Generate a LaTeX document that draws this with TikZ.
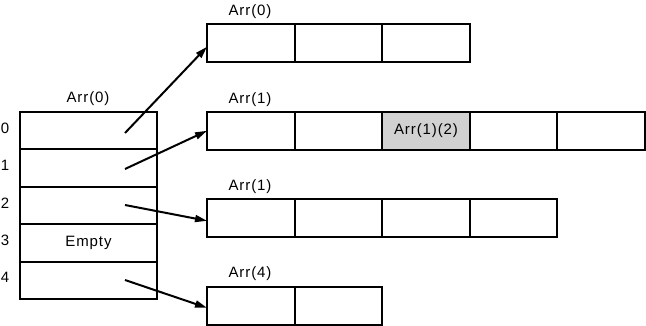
\documentclass[tikz,border=0pt]{standalone}
\usepackage{fontspec}
\setmainfont{Liberation Sans}[LetterSpace=6]
\usetikzlibrary{arrows.meta}
\begin{document}
\begin{tikzpicture}[x=1pt,y=-1pt,
  cell/.style={draw, line width=2pt, minimum width=87.6pt, minimum height=37.6pt,
    anchor=north west, inner sep=0pt, outer sep=0pt},
  slot/.style={draw, line width=2pt, minimum width=137pt, minimum height=37.4pt,
    anchor=north west, inner sep=0pt, outer sep=0pt},
  shaded/.style={fill=black!18},
  lbl/.style={font=\fontsize{15}{17}\selectfont, inner sep=0pt},
  ptr/.style={line width=2pt, -{Triangle[length=12pt,width=7pt]}}]
  \useasboundingbox (0,0) rectangle (646,326);

  % outer array: five slots
  \foreach \i/\y in {0/112,1/149.4,2/186.8,3/224.2,4/261.6}{
    \node[slot] (s\i) at (20,\y) {};
    \node[lbl] (n\i) at (5,\y+16) {\i};
  }
  \node[lbl] at (s3) {Empty};
  \node[lbl] (outer) at (88,99) {Arr(0)};

  % inner arrays
  \foreach \j in {0,1,2}
    \node[cell] (a0c\j) at (207+87.6*\j,24) {};
  \foreach \j in {0,1,2,3,4}
    \node[cell] (a1c\j) at (207+87.6*\j,112) {};
  \node[cell,shaded] at (a1c2.north west) {};
  \node[lbl] at (a1c2) {Arr(1)(2)};
  \foreach \j in {0,1,2,3}
    \node[cell] (a2c\j) at (207+87.6*\j,199) {};
  \foreach \j in {0,1}
    \node[cell] (a4c\j) at (207+87.6*\j,287) {};

  \node[lbl] at (250,12) {Arr(0)};
  \node[lbl] at (250,100) {Arr(1)};
  \node[lbl] at (250,187) {Arr(1)};
  \node[lbl] at (250,274) {Arr(4)};

  % pointer origins inside the slots
  \coordinate (p0) at (125,133);
  \coordinate (p1) at (125,169);
  \coordinate (p2) at (125,205);
  \coordinate (p4) at (125,280);
  % pointer targets on the left edge of each inner array
  \coordinate (t0) at ([yshift=-4pt]a0c0.west);
  \coordinate (t1) at (a1c0.west);
  \coordinate (t2) at ([yshift=-3pt]a2c0.west);
  \coordinate (t4) at ([yshift=-2pt]a4c0.west);

  \draw[ptr] (p0) -- (t0);
  \draw[ptr] (p1) -- (t1);
  \draw[ptr] (p2) -- (t2);
  \draw[ptr] (p4) -- (t4);
\end{tikzpicture}
\end{document}
